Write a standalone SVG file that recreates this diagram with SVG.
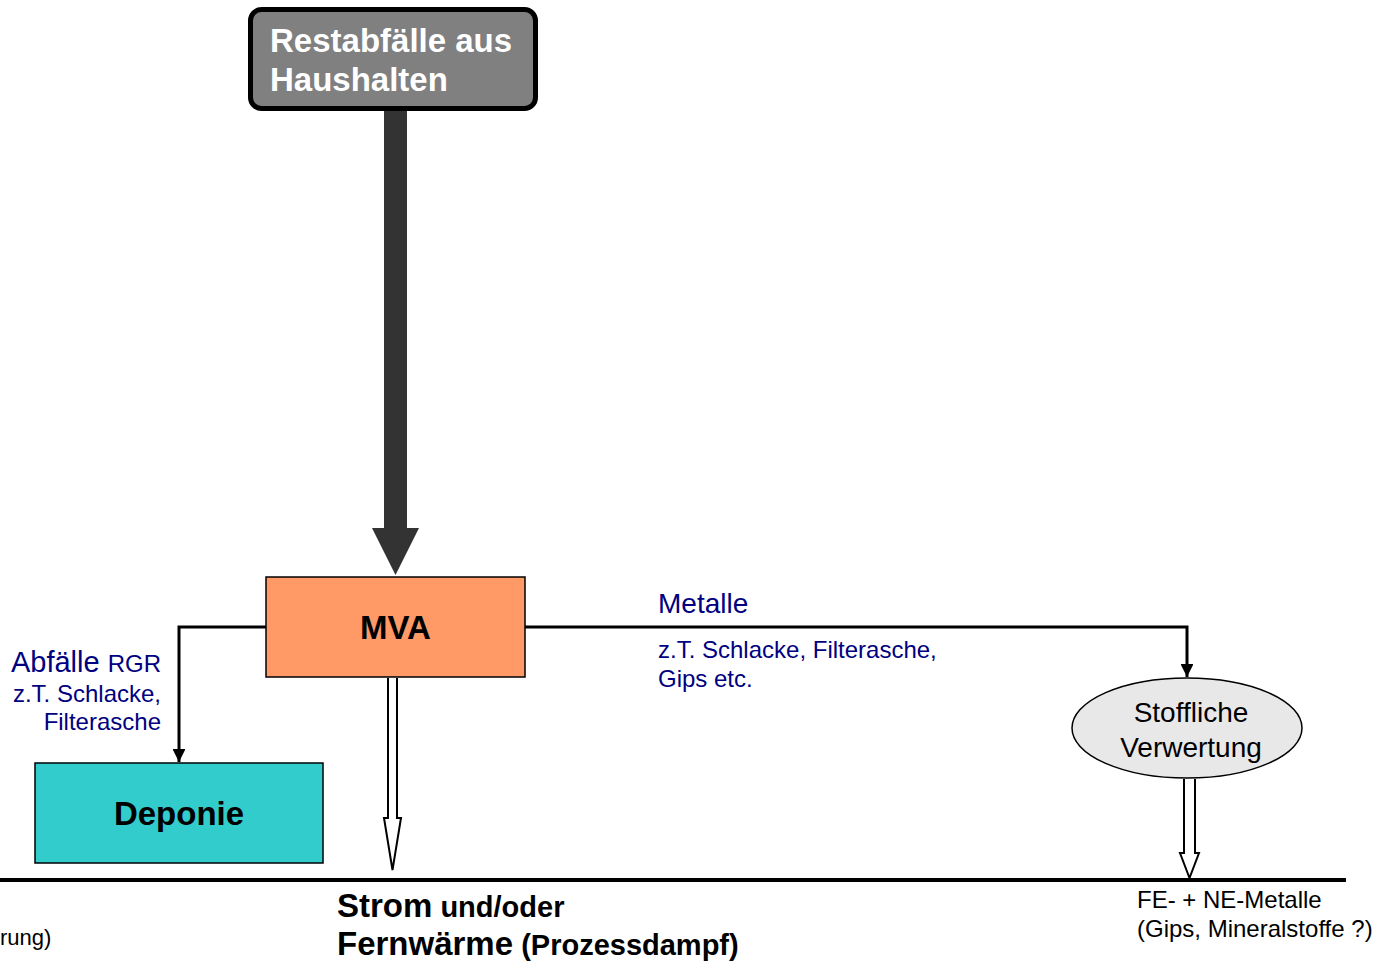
<svg xmlns="http://www.w3.org/2000/svg" width="1388" height="962" viewBox="0 0 1388 962">
  <style>
    text { font-family: "Liberation Sans", Arial, sans-serif; }
    .bold { font-weight: bold; }
    .navy { fill: #000080; }
    .blk { fill: #000000; }
    .line { fill: none; stroke: #000; stroke-width: 3; }
    .hollow { fill: #fff; stroke: #000; stroke-width: 2; stroke-linejoin: miter; }
  </style>
  <defs>
    <marker id="tip" viewBox="0 0 10 10" refX="10" refY="5" markerWidth="4.3" markerHeight="4.3" orient="auto" markerUnits="strokeWidth">
      <path d="M0,0 L10,5 L0,10 Z" fill="#000"/>
    </marker>
  </defs>

  <rect width="1388" height="962" fill="#fff"/>

  <!-- connectors -->
  <g id="connectors">
    <!-- main waste stream into incinerator -->
    <path d="M384,110 V528 H372 L395.5,575 L419,528 H407 V110 Z" fill="#333333"/>
    <!-- MVA to landfill -->
    <path class="line" d="M266,627 H179 V762" marker-end="url(#tip)"/>
    <!-- MVA to material recovery -->
    <path class="line" d="M525,627 H1187 V677" marker-end="url(#tip)"/>
    <!-- energy output -->
    <path class="hollow" d="M388,678 V818 H384 L392.5,870 L401,818 H397 V678"/>
    <!-- recovered materials output -->
    <path class="hollow" d="M1184,779 V853 H1180 L1189.5,878 L1199,853 H1195 V779"/>
    <!-- baseline -->
    <line x1="0" y1="880" x2="1346" y2="880" stroke="#000" stroke-width="4"/>
  </g>

  <g id="restabfaelle">
    <rect x="250.5" y="9.5" width="285" height="99" rx="11" fill="#808080" stroke="#000" stroke-width="5"/>
    <text x="270" y="52" font-size="33" class="bold" fill="#fff">Restabfälle aus</text>
    <text x="270" y="91" font-size="33" class="bold" fill="#fff">Haushalten</text>
  </g>

  <g id="mva">
    <rect x="266" y="577" width="259" height="100" fill="#FF9966" stroke="#000" stroke-width="1.5"/>
    <text x="395.5" y="639" font-size="33" class="bold blk" text-anchor="middle">MVA</text>
  </g>

  <g id="deponie">
    <rect x="35" y="763" width="288" height="100" fill="#33CCCC" stroke="#000" stroke-width="1.5"/>
    <text x="179" y="825" font-size="33" class="bold blk" text-anchor="middle">Deponie</text>
  </g>

  <g id="stoffliche-verwertung">
    <ellipse cx="1187" cy="728" rx="115" ry="50" fill="#E8E8E8" stroke="#000" stroke-width="1.5"/>
    <text x="1191" y="722" font-size="28" class="blk" text-anchor="middle">Stoffliche</text>
    <text x="1191" y="757" font-size="28" class="blk" text-anchor="middle">Verwertung</text>
  </g>

  <g id="labels">
    <text x="161" y="672" text-anchor="end" class="navy"><tspan font-size="29">Abfälle </tspan><tspan font-size="24">RGR</tspan></text>
    <text x="161" y="702" font-size="24" text-anchor="end" class="navy">z.T. Schlacke,</text>
    <text x="161" y="730" font-size="24" text-anchor="end" class="navy">Filterasche</text>

    <text x="658" y="613" font-size="28" class="navy">Metalle</text>
    <text x="658" y="658" font-size="24" class="navy">z.T. Schlacke, Filterasche,</text>
    <text x="658" y="687" font-size="24" class="navy">Gips etc.</text>

    <text x="337" y="917" class="bold blk"><tspan font-size="33">Strom</tspan><tspan font-size="29"> und/oder</tspan></text>
    <text x="337" y="955" class="bold blk"><tspan font-size="33">Fernwärme</tspan><tspan font-size="29"> (Prozessdampf)</tspan></text>

    <text x="0" y="945" font-size="22" class="blk">rung)</text>

    <text x="1137" y="908" font-size="24" class="blk">FE- + NE-Metalle</text>
    <text x="1137" y="937" font-size="24" class="blk">(Gips, Mineralstoffe ?)</text>
  </g>
</svg>
